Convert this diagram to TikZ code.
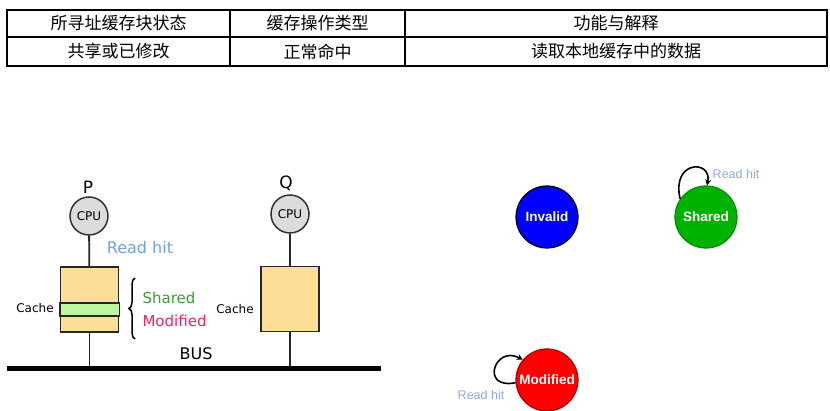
\documentclass[tikz,border=0pt]{standalone}
\usepackage{fontspec}
\setmainfont{DejaVu Sans}
\newfontfamily\cjk{Noto Sans CJK SC}
\newfontfamily\arialfont{Liberation Sans}
\usepackage{xcolor}
\definecolor{cachefill}{RGB}{252,222,150}
\definecolor{linefill}{RGB}{190,245,160}
\definecolor{hitblue}{RGB}{112,160,222}
\definecolor{hitpale}{RGB}{140,170,220}
\definecolor{sharedgreen}{RGB}{60,155,50}
\definecolor{modpink}{RGB}{250,30,100}
\definecolor{cpugray}{RGB}{220,220,220}
\usetikzlibrary{positioning, calc, arrows.meta, decorations.pathreplacing}
\tikzstyle{cell}=[font=\cjk\fontsize{17}{19}\selectfont, inner sep=0pt]
\tikzstyle{cpu}=[circle, draw=black!80, fill=cpugray, minimum size=38pt, inner sep=0pt, line width=1.5pt, font=\fontsize{12}{13}\selectfont]
\tikzstyle{cache}=[rectangle, draw=black!85, fill=cachefill, minimum width=58pt, minimum height=65pt, line width=1.8pt]
\tikzstyle{state}=[circle, minimum size=62pt, inner sep=0pt, line width=1.2pt, text=white, font=\arialfont\bfseries\fontsize{13.5}{14}\selectfont]
\tikzstyle{wire}=[line width=1.8pt, draw=black!85]
\tikzstyle{selfloop}=[line width=1.6pt, -{Stealth[length=6pt, width=6pt]}]

\begin{document}
\begin{tikzpicture}[x=1pt, y=-1pt]
	\useasboundingbox (0,0) rectangle (830,411);

	% table
	\draw[line width=1.3pt] (7,10) rectangle (827,66);
	\draw[line width=1.1pt] (7,37) -- (827,37) (230,10) -- (230,66) (405,10) -- (405,66);
	\node[cell] (h1) at (118.5,23.5) {所寻址缓存块状态};
	\node[cell] (h2) at (317.5,23.5) {缓存操作类型};
	\node[cell] (h3) at (616,23.5) {功能与解释};
	\node[cell] (r1) at (118.5,51.5) {共享或已修改};
	\node[cell] (r2) at (317.5,51.5) {正常命中};
	\node[cell] (r3) at (616,51.5) {读取本地缓存中的数据};

	% processors and caches
	\coordinate (busL) at (7,369);
	\coordinate (busR) at (381,369);
	\node[cpu] (cpuP) at (89,216) {CPU};
	\node[cpu] (cpuQ) at (290,214) {CPU};
	\node[font=\fontsize{17}{18}\selectfont] (labP) at (88,187) {P};
	\node[font=\fontsize{17}{18}\selectfont] (labQ) at (286,183) {Q};
	\node[cache] (cacheP) at (89.5,299.5) {};
	\node[cache] (cacheQ) at (290,299) {};
	\draw[wire, fill=linefill] (cacheP.west |- 0,303) rectangle (cacheP.east |- 0,316);
	\node[font=\fontsize{12}{13}\selectfont] (capP) at (35,308) {Cache};
	\node[font=\fontsize{12}{13}\selectfont] (capQ) at (235,309) {Cache};
	\draw[wire] (cpuP) -- (cacheP);
	\draw[wire] (cpuQ) -- (cacheQ);
	\draw[wire] (cacheP.south) -- (cacheP.south |- busL);
	\draw[wire] (cacheQ.south) -- (cacheQ.south |- busL);
	\draw[line width=5pt] (busL) -- (busR);
	\node[font=\fontsize{16}{17}\selectfont] (bus) at (196,354) {BUS};
	\node[font=\fontsize{16}{17}\selectfont, text=hitblue] (hitP) at (140,248) {Read hit};
	\draw[line width=1.5pt, decorate, decoration={brace, amplitude=6pt}] (135,339) -- (135,278);
	\node[font=\fontsize{15}{16}\selectfont, text=sharedgreen, anchor=west] (shP) at (139,298) {Shared};
	\node[font=\fontsize{15}{16}\selectfont, text=modpink, anchor=west] (modP) at (139,321) {Modified};

	% state diagram
	\node[state, draw=black, fill=blue] (invalid) at (547,217) {Invalid};
	\node[state, draw=green!55!black, fill=green!70!black] (shared) at (706,217) {Shared};
	\node[state, draw=red!65!black, fill=red] (modified) at (547,380) {Modified};
	\draw[selfloop] (shared.145) .. controls +(-9,-39) and +(5,-26) .. (shared.88);
	\draw[selfloop] (modified.185) .. controls +(-36,7) and +(-28,-15) .. (modified.140);
	\node[font=\arialfont\fontsize{12.5}{13}\selectfont, text=hitpale] (hitS) at (736,174) {Read hit};
	\node[font=\arialfont\fontsize{12.5}{13}\selectfont, text=hitpale] (hitM) at (481,395) {Read hit};
\end{tikzpicture}
\end{document}
